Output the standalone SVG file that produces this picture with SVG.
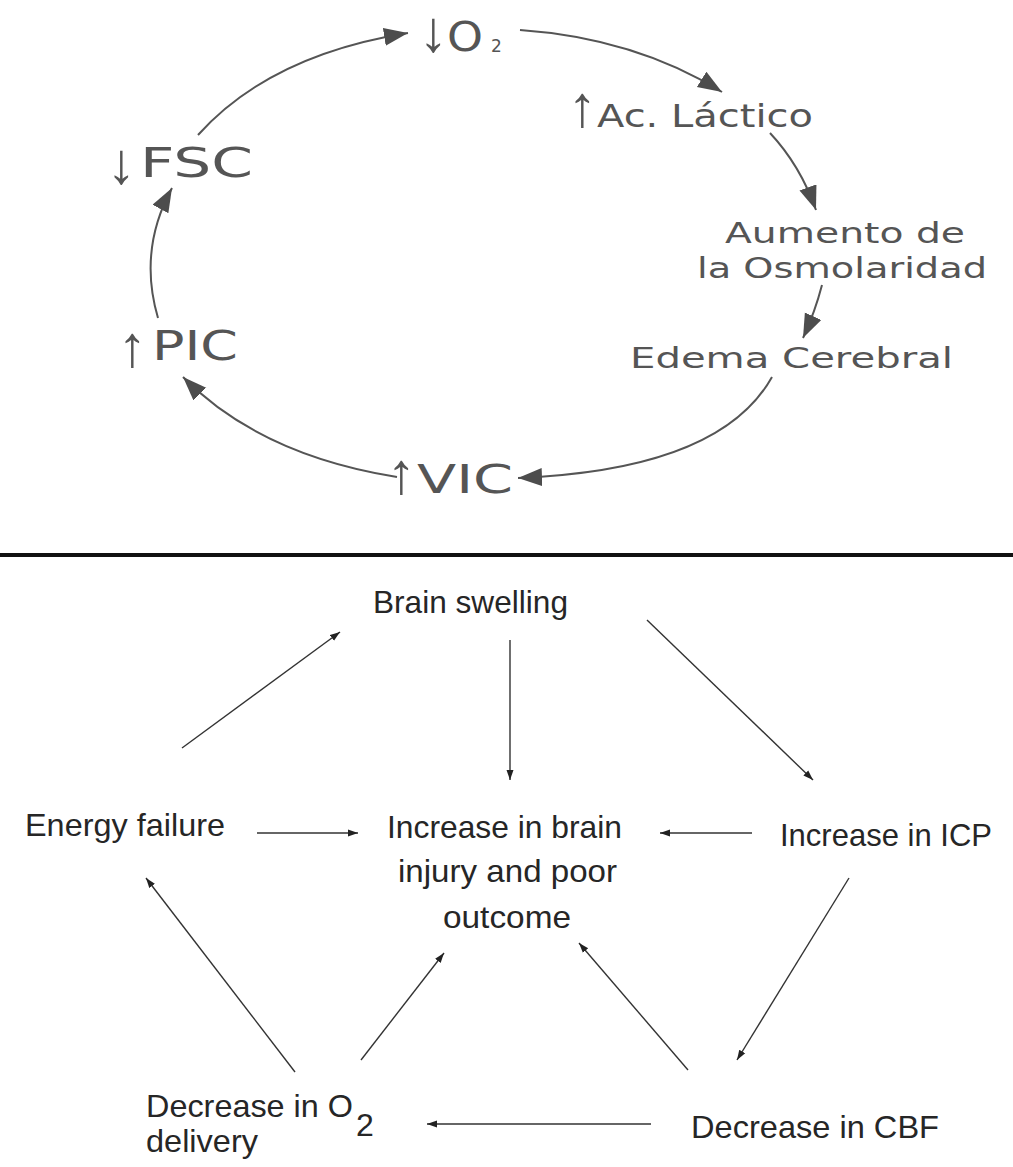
<svg xmlns="http://www.w3.org/2000/svg" width="1013" height="1167" viewBox="0 0 1013 1167">
<defs>
<style>
.t{font-family:"DejaVu Sans","Liberation Sans",sans-serif;fill:#555}
.ar{font-family:"Liberation Sans",Arial,sans-serif;fill:#555;font-size:58px}
.b{font-family:"Liberation Sans",Arial,sans-serif;font-size:32px;fill:#262626}
.ct{fill:none;stroke:#555;stroke-width:2}
.cb{fill:none;stroke:#333;stroke-width:1.4}
</style>
<marker id="big" markerUnits="userSpaceOnUse" markerWidth="25" markerHeight="20" refX="24" refY="9" orient="auto"><path d="M0,0 L24,9 L0,18 Z" fill="#4d4d4d"/></marker>
<marker id="small" markerUnits="userSpaceOnUse" markerWidth="11" markerHeight="9" refX="10" refY="4" orient="auto"><path d="M0,0.5 L10,4 L0,7.5 Z" fill="#222"/></marker>
</defs>
<rect width="1013" height="1167" fill="#fff"/>

<g id="connectors">
<path class="ct" marker-end="url(#big)" d="M198,135 Q270,55 408,33"/>
<path class="ct" marker-end="url(#big)" d="M520,30 Q635,38 722,92"/>
<path class="ct" marker-end="url(#big)" d="M770,133 Q800,165 816,210"/>
<path class="ct" marker-end="url(#big)" d="M822,285 Q815,312 803,338"/>
<path class="ct" marker-end="url(#big)" d="M772,377 Q720,470 518,478"/>
<path class="ct" marker-end="url(#big)" d="M397,477 Q260,455 183,377"/>
<path class="ct" marker-end="url(#big)" d="M158,318 Q138,250 172,188"/>
<line x1="0" y1="555" x2="1013" y2="555" stroke="#111" stroke-width="4"/>
<path class="cb" marker-end="url(#small)" d="M182,748 L340,632"/>
<path class="cb" marker-end="url(#small)" d="M510,640 L510,780"/>
<path class="cb" marker-end="url(#small)" d="M647,620 L813,780"/>
<path class="cb" marker-end="url(#small)" d="M257,833 L358,833"/>
<path class="cb" marker-end="url(#small)" d="M752,833 L660,833"/>
<path class="cb" marker-end="url(#small)" d="M849,878 L737,1060"/>
<path class="cb" marker-end="url(#small)" d="M688,1070 L579,943"/>
<path class="cb" marker-end="url(#small)" d="M651,1124 L427,1124"/>
<path class="cb" marker-end="url(#small)" d="M361,1060 L444,953"/>
<path class="cb" marker-end="url(#small)" d="M295,1072 L146,878"/>
</g>

<g id="n-o2"><text class="t"><tspan class="ar" x="419" y="51" font-size="52">↓</tspan><tspan x="447" y="51" font-size="41" textLength="36" lengthAdjust="spacingAndGlyphs">O</tspan><tspan x="491" y="52" font-size="17">2</tspan></text></g>
<g id="n-lactico"><text class="t"><tspan class="ar" x="568" y="126">↑</tspan><tspan x="597" y="127" font-size="32" textLength="216" lengthAdjust="spacingAndGlyphs">Ac. Láctico</tspan></text></g>
<g id="n-osmo"><text class="t" x="725" y="243" font-size="28" textLength="240" lengthAdjust="spacingAndGlyphs">Aumento de</text><text class="t" x="697" y="278" font-size="28" textLength="290" lengthAdjust="spacingAndGlyphs">la Osmolaridad</text></g>
<g id="n-edema"><text class="t" x="630" y="368" font-size="28" textLength="323" lengthAdjust="spacingAndGlyphs">Edema Cerebral</text></g>
<g id="n-vic"><text class="t"><tspan class="ar" x="387" y="493">↑</tspan><tspan x="417" y="493" font-size="39" textLength="96" lengthAdjust="spacingAndGlyphs">VIC</tspan></text></g>
<g id="n-pic"><text class="t"><tspan class="ar" x="118" y="366">↑</tspan><tspan x="152" y="360" font-size="41" textLength="86" lengthAdjust="spacingAndGlyphs">PIC</tspan></text></g>
<g id="n-fsc"><text class="t"><tspan class="ar" x="107" y="183">↓</tspan><tspan x="140" y="177" font-size="40" textLength="113" lengthAdjust="spacingAndGlyphs">FSC</tspan></text></g>

<g id="n-brain"><text class="b" x="373" y="613" textLength="195" lengthAdjust="spacingAndGlyphs">Brain swelling</text></g>
<g id="n-energy"><text class="b" x="25" y="836" textLength="200" lengthAdjust="spacingAndGlyphs">Energy failure</text></g>
<g id="n-center"><text class="b" x="387" y="838" textLength="235" lengthAdjust="spacingAndGlyphs">Increase in brain</text><text class="b" x="398" y="882" textLength="219" lengthAdjust="spacingAndGlyphs">injury and poor</text><text class="b" x="443" y="928" textLength="128" lengthAdjust="spacingAndGlyphs">outcome</text></g>
<g id="n-icp"><text class="b" x="780" y="846" textLength="212" lengthAdjust="spacingAndGlyphs">Increase in ICP</text></g>
<g id="n-o2del"><text class="b"><tspan x="146" y="1117" textLength="207" lengthAdjust="spacingAndGlyphs">Decrease in O</tspan><tspan x="356" y="1136">2</tspan></text><text class="b" x="146" y="1152" textLength="112" lengthAdjust="spacingAndGlyphs">delivery</text></g>
<g id="n-cbf"><text class="b" x="691" y="1138" textLength="248" lengthAdjust="spacingAndGlyphs">Decrease in CBF</text></g>
</svg>
